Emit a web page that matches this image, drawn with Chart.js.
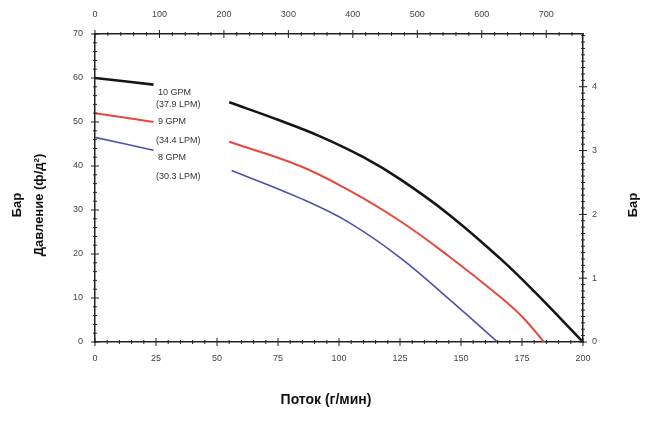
<!DOCTYPE html>
<html>
<head>
<meta charset="utf-8">
<script src="https://cdn.jsdelivr.net/npm/chart.js@4/dist/chart.umd.min.js"></script>
<style>
  html, body { margin: 0; padding: 0; background: #fff; }
  #wrap { width: 653px; height: 434px; }
</style>
</head>
<body>
<div id="wrap"><canvas id="pumpChart" width="653" height="434"></canvas></div>
<script>
// Pump curves — pressure vs flow for three flow ratings
var flow10 = [0, 24, 40, 55, 75, 92, 110, 125, 145, 166, 180, 200];
var psi10  = [60, 58.5, null, 54.5, 50.5, 46.8, 42, 37, 29, 19, 11.5, 0];

var flow9  = [0, 24, 40, 55, 84, 104, 125, 145, 166, 175, 184];
var psi9   = [52, 50, null, 45.5, 40, 34.5, 27.5, 19.5, 10.3, 5.8, 0];

var flow8  = [0, 24, 40, 56, 84, 104, 125, 145, 165];
var psi8   = [46.5, 43.6, null, 39, 32.7, 27.2, 19.2, 9.8, 0];

var curveLabels = [['10 GPM', '(37.9 LPM)'], ['9 GPM', '(34.4 LPM)'], ['8 GPM', '(30.3 LPM)']];

var flowMax   = 200;            // g/min
var lpmMax    = 200 * 3.7854;   // l/min on the top axis
var psiMax    = 70;
var barMax    = 70 / 14.5038;   // bar on the right axis

function toPoints(xs, ys) {
  return xs.map(function(x, i) { return { x: x, y: ys[i] }; });
}

var FONT = '"Liberation Sans", Arial, sans-serif';

// Frame ticks, curve labels and axis titles
var decorPlugin = {
  id: 'decor',
  afterDraw: function(chart) {
    var ctx = chart.ctx, s = chart.scales, a = chart.chartArea;
    ctx.save();
    ctx.strokeStyle = '#222';
    ctx.lineWidth = 1;

    function tickRun(scale, step, majorStep, max, horizontal, base) {
      for (var v = 0; v <= max + 1e-6; v += step) {
        var p = scale.getPixelForValue(v);
        var major = Math.abs(v / majorStep - Math.round(v / majorStep)) < 1e-6;
        var len = major ? 4 : 2;
        ctx.beginPath();
        if (horizontal) { ctx.moveTo(p, base - len); ctx.lineTo(p, base + len); }
        else            { ctx.moveTo(base - len, p); ctx.lineTo(base + len, p); }
        ctx.stroke();
      }
    }
    tickRun(s.x,  5,   25,  flowMax, true,  a.bottom);
    tickRun(s.x2, 20,  100, lpmMax,  true,  a.top);
    tickRun(s.y,  2,   10,  psiMax,  false, a.left);
    tickRun(s.y2, 0.1, 1,   barMax,  false, a.right);

    // curve labels
    ctx.fillStyle = '#333';
    ctx.font = '9px ' + FONT;
    ctx.textAlign = 'left';
    ctx.textBaseline = 'middle';
    var lx = s.x.getPixelForValue(25);
    var ly = [[56.8, 53.9], [50, 45.7], [42, 37.7]];
    curveLabels.forEach(function(lines, i) {
      ctx.fillText(lines[0], lx + 2, s.y.getPixelForValue(ly[i][0]));
      ctx.fillText(lines[1], lx,     s.y.getPixelForValue(ly[i][1]));
    });

    // axis titles
    ctx.fillStyle = '#111';
    ctx.font = 'bold 13px ' + FONT;
    ctx.textAlign = 'center';
    var cy = (a.top + a.bottom) / 2 + 17;
    ctx.save();
    ctx.translate(17, cy);
    ctx.rotate(-Math.PI / 2);
    ctx.fillText('Бар', 0, 0);
    ctx.restore();
    ctx.save();
    ctx.translate(39, cy);
    ctx.rotate(-Math.PI / 2);
    ctx.fillText('Давление (ф/д²)', 0, 0);
    ctx.restore();
    ctx.save();
    ctx.translate(633, cy);
    ctx.rotate(-Math.PI / 2);
    ctx.fillText('Бар', 0, 0);
    ctx.restore();

    ctx.font = 'bold 14px ' + FONT;
    ctx.fillText('Поток (г/мин)', 326, 400);
    ctx.restore();
  }
};

function fixSize(size) {
  return function(scale) {
    if (scale.isHorizontal()) scale.height = size; else scale.width = size;
  };
}

function keepSteps(step) {
  return function(scale) {
    scale.ticks = scale.ticks.filter(function(t) {
      return Math.abs(t.value / step - Math.round(t.value / step)) < 1e-6;
    });
  };
}

var tickFont = { family: FONT, size: 9 };
var border = { display: true, color: '#222', width: 1.5 };
var noGrid = { display: false, drawTicks: false };

new Chart(document.getElementById('pumpChart').getContext('2d'), {
  type: 'line',
  data: {
    datasets: [
      { label: '10 GPM', data: toPoints(flow10, psi10), borderColor: '#151515', borderWidth: 2.6 },
      { label: '9 GPM',  data: toPoints(flow9, psi9),   borderColor: '#e5493c', borderWidth: 2 },
      { label: '8 GPM',  data: toPoints(flow8, psi8),   borderColor: '#4d4fae', borderWidth: 1.6 }
    ].map(function(d) {
      d.pointRadius = 0;
      d.fill = false;
      d.tension = 0.4;
      d.xAxisID = 'x';
      d.yAxisID = 'y';
      return d;
    })
  },
  options: {
    responsive: false,
    animation: false,
    layout: { padding: 0 },
    plugins: { legend: { display: false }, tooltip: { enabled: false } },
    scales: {
      x: {
        type: 'linear', position: 'bottom', min: 0, max: flowMax,
        grid: noGrid, border: border,
        ticks: { stepSize: 25, padding: 11, color: '#444', font: tickFont, maxRotation: 0, autoSkip: false },
        afterFit: fixSize(92)
      },
      x2: {
        type: 'linear', position: 'top', min: 0, max: lpmMax,
        grid: noGrid, border: border,
        ticks: { stepSize: 100, padding: 14, color: '#444', font: tickFont, maxRotation: 0, autoSkip: false, includeBounds: false },
        afterBuildTicks: keepSteps(100),
        afterFit: fixSize(34)
      },
      y: {
        type: 'linear', position: 'left', min: 0, max: psiMax,
        grid: noGrid, border: border,
        ticks: { stepSize: 10, padding: 12, color: '#444', font: tickFont, autoSkip: false },
        afterFit: fixSize(95)
      },
      y2: {
        type: 'linear', position: 'right', min: 0, max: barMax,
        grid: noGrid, border: border,
        ticks: { stepSize: 1, padding: 9, color: '#444', font: tickFont, autoSkip: false, includeBounds: false },
        afterBuildTicks: keepSteps(1),
        afterFit: fixSize(70)
      }
    }
  },
  plugins: [decorPlugin]
});
</script>
</body>
</html>
